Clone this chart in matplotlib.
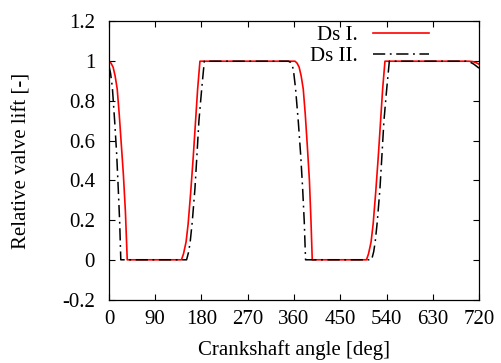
import matplotlib
matplotlib.use('Agg')
import matplotlib.pyplot as plt

plt.rcParams['font.family'] = ['Liberation Serif', 'DejaVu Serif']
plt.rcParams['font.size'] = 15

# Ds I. (red)
ds1_angle = [0, 4, 8, 12, 16, 20, 24, 28, 32, 35.5,
             141, 145, 150, 154, 159, 164, 168, 172.5, 177,
             362, 366, 370, 374, 378, 382, 386, 390, 393, 395.5,
             501, 505, 510, 514, 519, 524, 528, 532.5, 537,
             700, 708, 714, 720]
ds1_lift = [1.0, 0.99, 0.97, 0.925, 0.86, 0.73, 0.58, 0.43, 0.24, 0.0,
            0.0, 0.03, 0.09, 0.18, 0.34, 0.52, 0.68, 0.86, 1.0,
            1.0, 0.99, 0.97, 0.925, 0.86, 0.73, 0.57, 0.40, 0.2, 0.0,
            0.0, 0.03, 0.09, 0.18, 0.34, 0.52, 0.68, 0.86, 1.0,
            1.0, 0.998, 0.993, 0.985]

# Ds II. (black dash-dot)
ds2_angle = [0, 3, 6.5, 11, 15, 18, 20.8, 23,
             151, 155, 158, 162, 167.3, 171.2, 175, 180.4, 185.5,
             349, 353, 356, 358.7, 363, 368.4, 373, 376.8, 380, 382.5,
             511, 515, 518, 522, 527.3, 531.2, 535, 540.4, 545.5,
             695, 703, 710, 715, 720]
ds2_lift = [0.975, 0.94, 0.87, 0.70, 0.53, 0.36, 0.19, 0.0,
            0.0, 0.04, 0.09, 0.19, 0.36, 0.53, 0.70, 0.86, 1.0,
            1.0, 0.995, 0.98, 0.96, 0.863, 0.695, 0.528, 0.36, 0.19, 0.0,
            0.0, 0.04, 0.09, 0.19, 0.36, 0.53, 0.70, 0.86, 1.0,
            1.0, 0.995, 0.985, 0.975, 0.965]

xticks = [0, 90, 180, 270, 360, 450, 540, 630, 720]
yticks = [-0.2, 0, 0.2, 0.4, 0.6, 0.8, 1, 1.2]
ytick_labels = ['-0.2', '0', '0.2', '0.4', '0.6', '0.8', '1', '1.2']

fig = plt.figure(figsize=(5.02, 3.63), dpi=100)
ax = fig.add_axes([0.2171, 0.1749, 0.7371, 0.7659])

ax.plot(ds1_angle, ds1_lift, color='#ff0000', lw=1.2, label='Ds I.')
ax.plot(ds2_angle, ds2_lift, color='black', lw=1.1,
        linestyle=(0, (8, 3, 1.2, 3)), label='Ds II.')

ax.set_xlim(0, 720)
ax.set_ylim(-0.2, 1.2)
ax.set_xticks(xticks)
ax.set_yticks(yticks)
ax.set_yticklabels(ytick_labels)
ax.tick_params(direction='in', length=4.5, width=0.8, top=True, right=True)
ax.tick_params(axis='x', pad=7.5)
ax.tick_params(axis='y', pad=10)
for s in ax.spines.values():
    s.set_linewidth(0.9)

ax.set_xlabel('Crankshaft angle [deg]', labelpad=8)
ax.set_ylabel('Relative valve lift [-]', labelpad=22)

ax.legend(loc='upper right', bbox_to_anchor=(0.865, 0.985), frameon=False,
          markerfirst=False, handlelength=2.7, handletextpad=0.7,
          labelspacing=0.05, borderpad=0, borderaxespad=0)

fig.savefig('out.png', dpi=100)
